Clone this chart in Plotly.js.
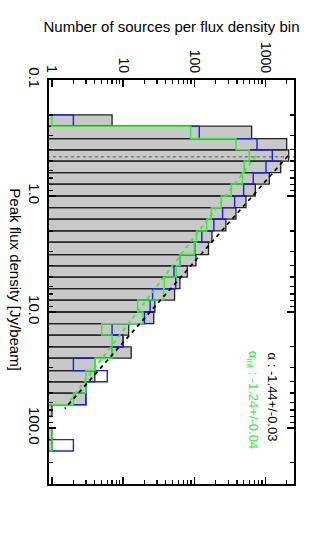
<!DOCTYPE html>
<html>
<head>
<meta charset="utf-8">
<script src="https://cdn.plot.ly/plotly-3.0.1.min.js"></script>
<style>
  html, body { margin: 0; padding: 0; background: #fff; }
  #chart { width: 327px; height: 538px; }
</style>
</head>
<body>
<div id="chart"></div>
<script>
// bin edges of peak flux density [Jy/beam], 0.1 dex wide
const binEdges = [0.20, 0.25, 0.32, 0.40, 0.50, 0.63, 0.79, 1.0, 1.26, 1.58, 2.0, 2.5, 3.2, 4.0,
                  5.0, 6.3, 7.9, 10, 12.6, 15.8, 20, 25, 32, 40, 50, 63, 79, 100, 126, 158];

// number of sources per bin
const allCounts  = [7, 643, 2000, 2137, 1648, 1138, 725, 535, 387, 279, 178, 159, 106, 80,
                    63, 53, 28, 27, 12, 10, 13, 4, 4, 3, 3, 1, 0, 1, 1];
const blueCounts = [2, 118, 764, 1256, 1023, 678, 496, 371, 251, 189, 128, 102, 63, 52,
                    55, 26, 24, 20, 7, 10, 7, 2, 6, 3, 3, 0, 0, 0, 2];
const intCounts  = [1, 89, 387, 596, 506, 474, 332, 240, 174, 150, 108, 100, 63, 56,
                    38, 37, 16, 19, 5, 7, 7, 4, 3, 3, 2, 0, 0, 1, 1];

// power-law fits: N = 10^logA * S^alpha, drawn between fitRange limits
const fitAll = { alpha: -1.44, logA: 2.82, range: [0.45, 68] };
const fitInt = { alpha: -1.24, logA: 2.44, range: [0.45, 58] };
const completeness = 0.46;   // dotted limit

const xTickVals = [1, 10, 100, 1000];
const xTickText = ['1', '10', '100', '1000'];
const yTickVals = [0.1, 1, 10, 100];
const yTickText = ['0.1', '1.0', '10.0', '100.0'];

const FLOOR = 0.1;  // zero counts go off the left of the log axis
const v = c => (c > 0 ? c : FLOOR);

// filled boxes, one per bin
function boxes(counts) {
    const x = [], y = [];
    counts.forEach((c, i) => {
        const lo = binEdges[i], hi = binEdges[i + 1];
        x.push(FLOOR, v(c), v(c), FLOOR, FLOOR, null);
        y.push(lo, lo, hi, hi, lo, null);
    });
    return { x, y };
}

// outline step histogram
function steps(counts) {
    const x = [FLOOR], y = [binEdges[0]];
    counts.forEach((c, i) => {
        x.push(v(c), v(c));
        y.push(binEdges[i], binEdges[i + 1]);
    });
    x.push(FLOOR);
    y.push(binEdges[binEdges.length - 1]);
    return { x, y };
}

function fitLine(f) {
    const y = f.range;
    const x = y.map(s => Math.pow(10, f.logA) * Math.pow(s, f.alpha));
    return { x, y };
}

const g = boxes(allCounts);
const b = steps(blueCounts);
const gr = steps(intCounts);
const fa = fitLine(fitAll);
const fi = fitLine(fitInt);

const GREEN = '#33ee33';

const traces = [
    { x: g.x, y: g.y, mode: 'lines', fill: 'toself', fillcolor: 'rgb(200,200,200)',
      line: { color: '#222', width: 1.3 }, hoverinfo: 'skip' },
    { x: [FLOOR, 1e4], y: [completeness, completeness], mode: 'lines',
      line: { color: '#555', width: 1, dash: 'dot' } },
    { x: b.x, y: b.y, mode: 'lines', line: { color: '#1f1fe6', width: 1.4 } },
    { x: gr.x, y: gr.y, mode: 'lines', line: { color: GREEN, width: 1.5 } },
    { x: fa.x, y: fa.y, mode: 'lines', line: { color: '#000', width: 1.8, dash: '4px,4px' } },
    { x: fi.x, y: fi.y, mode: 'lines', line: { color: GREEN, width: 1.8, dash: '4px,4px' } }
];

const font = { family: 'Liberation Sans, Arial, sans-serif', color: '#000' };

const layout = {
    width: 327, height: 538,
    margin: { l: 49, r: 33, t: 80, b: 54 },
    showlegend: false,
    paper_bgcolor: '#fff', plot_bgcolor: '#fff',
    font: { ...font, size: 12 },
    title: { text: 'Number of sources per flux density bin', x: 0.5, xref: 'paper',
             y: 0.95, yref: 'container', yanchor: 'middle', font: { ...font, size: 15 } },
    xaxis: {
        type: 'log', side: 'top', range: [-0.042, 3.404],
        tickmode: 'array', tickvals: xTickVals, ticktext: xTickText, tickangle: 90,
        ticks: 'inside', ticklen: 7, tickwidth: 1.2, tickcolor: '#000',
        minor: { ticks: 'inside', ticklen: 4, dtick: 'D1', tickcolor: '#000', showgrid: false },
        showline: true, linewidth: 2, linecolor: '#000', mirror: 'ticks',
        showgrid: false, zeroline: false, tickfont: { ...font, size: 14 }
    },
    yaxis: {
        type: 'log', range: [2.483, -1],
        tickmode: 'array', tickvals: yTickVals, ticktext: yTickText, tickangle: 90,
        ticks: 'inside', ticklen: 7, tickwidth: 1.2, tickcolor: '#000',
        minor: { ticks: 'inside', ticklen: 4, dtick: 'D1', tickcolor: '#000', showgrid: false },
        showline: true, linewidth: 2, linecolor: '#000', mirror: 'ticks',
        showgrid: false, zeroline: false, tickfont: { ...font, size: 15 }
    },
    annotations: [
        { text: 'Peak flux density [Jy/beam]', xref: 'paper', yref: 'paper',
          x: -0.14, y: 0.505, xanchor: 'center', yanchor: 'middle', textangle: 90,
          showarrow: false, font: { ...font, size: 15 } },
        { text: 'α : -1.44+/-0.03', xref: 'paper', yref: 'paper',
          x: 0.914, y: 0.214, xanchor: 'center', yanchor: 'middle', textangle: 90,
          showarrow: false, font: { ...font, size: 13 } },
        { text: 'α<sub>int</sub> : -1.24+/-0.04', xref: 'paper', yref: 'paper',
          x: 0.832, y: 0.209, xanchor: 'center', yanchor: 'middle', textangle: 90,
          showarrow: false, font: { ...font, size: 13, color: GREEN } }
    ]
};

Plotly.newPlot('chart', traces, layout, { displayModeBar: false, staticPlot: true });
</script>
</body>
</html>
